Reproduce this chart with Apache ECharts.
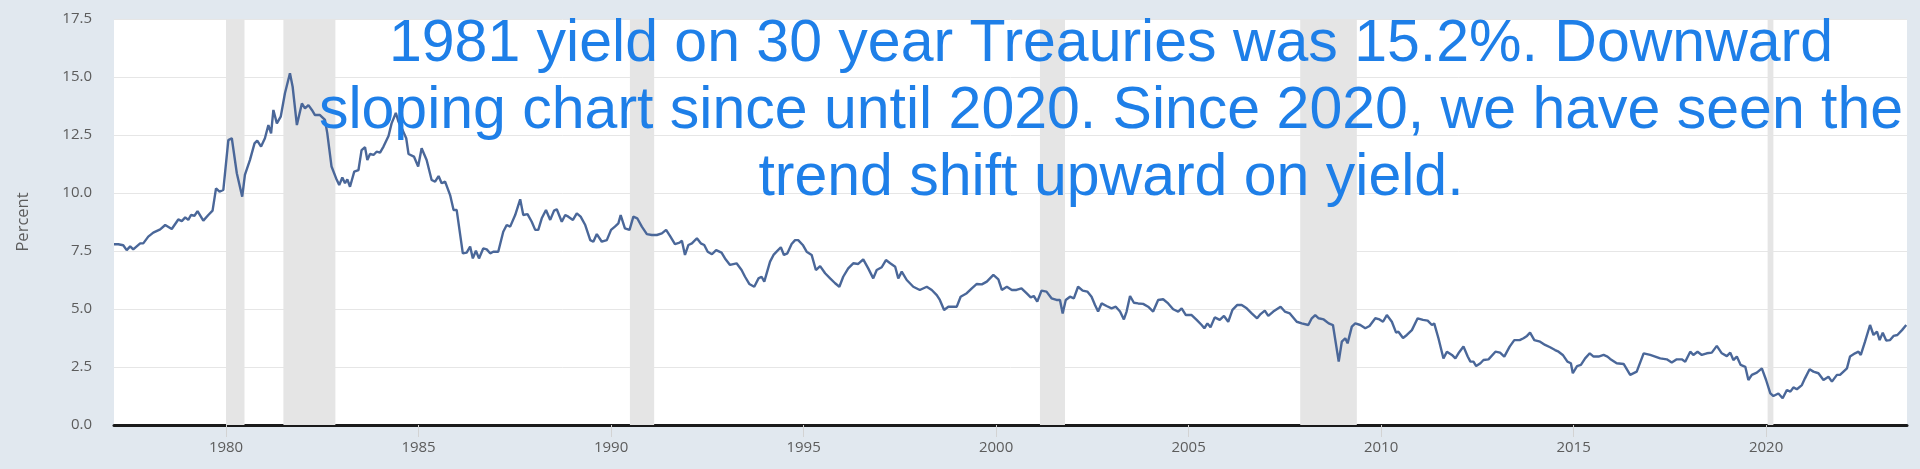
<!DOCTYPE html>
<html>
<head>
<meta charset="utf-8">
<script src="https://cdn.jsdelivr.net/npm/echarts@6/dist/echarts.min.js"></script>
<style>
html,body{margin:0;padding:0;background:#e1e8ef;}
#chart{width:1920px;height:469px;}
</style>
</head>
<body>
<div id="chart"></div>
<script>
const years = [
1977.09,1977.20,1977.33,1977.42,1977.51,1977.59,1977.77,1977.85,1977.98,1978.11,1978.29,1978.42,1978.59,1978.76,1978.85,1978.94,1979.02,1979.09,1979.18,1979.26,1979.41,1979.54,1979.65,1979.74,1979.83,1979.93,1980.06,1980.15,1980.28,1980.42,1980.49,1980.62,1980.74,1980.81,1980.91,1981.01,1981.10,1981.17,1981.23,1981.32,1981.42,1981.53,1981.66,1981.73,1981.84,1981.97,1982.05,1982.14,1982.23,1982.31,1982.44,1982.57,1982.63,1982.74,1982.86,1982.94,1983.02,1983.09,1983.15,1983.22,1983.33,1983.44,1983.52,1983.61,1983.67,1983.74,1983.83,1983.91,1984.00,1984.09,1984.22,1984.30,1984.41,1984.48,1984.59,1984.68,1984.74,1984.88,1984.99,
1985.08,1985.21,1985.34,1985.43,1985.52,1985.60,1985.69,1985.82,1985.91,1985.99,1986.15,1986.25,1986.34,1986.41,1986.49,1986.57,1986.68,1986.77,1986.86,1986.94,1987.07,1987.20,1987.29,1987.38,1987.51,1987.64,1987.72,1987.83,1987.94,1988.03,1988.11,1988.20,1988.31,1988.42,1988.52,1988.59,1988.72,1988.81,1988.89,1989.01,1989.11,1989.21,1989.33,1989.46,1989.54,1989.63,1989.76,1989.89,1990.00,1990.10,1990.19,1990.25,1990.36,1990.48,1990.58,1990.68,1990.80,1990.93,1991.06,1991.19,1991.32,1991.43,1991.53,1991.66,1991.78,1991.84,1991.92,1992.01,1992.10,1992.23,1992.33,1992.42,1992.51,1992.62,1992.73,
1992.87,1992.96,1993.09,1993.26,1993.39,1993.48,1993.59,1993.72,1993.83,1993.91,1993.98,1994.13,1994.22,1994.30,1994.41,1994.49,1994.58,1994.69,1994.78,1994.86,1994.98,1995.08,1995.21,1995.32,1995.43,1995.56,1995.69,1995.82,1995.93,1996.03,1996.16,1996.29,1996.42,1996.55,1996.68,1996.81,1996.90,1997.03,1997.14,1997.25,1997.38,1997.46,1997.55,1997.68,1997.85,1998.02,1998.20,1998.33,1998.46,1998.54,1998.65,1998.76,1998.98,1999.08,1999.24,1999.37,1999.50,1999.63,1999.76,1999.93,2000.06,2000.15,2000.28,2000.41,
2000.53,2000.66,2000.79,2000.90,2000.98,2001.07,2001.18,2001.31,2001.44,2001.57,2001.66,2001.73,2001.81,2001.92,2002.02,2002.13,2002.25,2002.37,2002.48,2002.57,2002.65,2002.74,2002.87,2003.00,2003.11,2003.22,2003.32,2003.39,2003.48,2003.58,2003.69,2003.82,2003.95,2004.08,2004.21,2004.34,2004.47,2004.60,2004.73,2004.82,2004.93,2005.08,2005.21,2005.34,2005.41,2005.49,2005.57,2005.68,2005.81,2005.92,2006.03,2006.14,2006.26,2006.38,2006.51,2006.64,2006.78,2006.87,2006.98,2007.07,2007.20,2007.29,2007.39,2007.50,2007.63,2007.81,2007.94,2008.11,2008.20,
2008.29,2008.38,2008.51,2008.64,2008.75,2008.90,2008.98,2009.07,2009.13,2009.24,2009.33,2009.46,2009.59,2009.70,2009.85,2009.96,2010.05,2010.15,2010.28,2010.39,2010.45,2010.57,2010.67,2010.80,2010.95,2011.09,2011.21,2011.32,2011.38,2011.49,2011.62,2011.71,2011.84,2011.93,2012.01,2012.14,2012.25,2012.32,2012.40,2012.47,2012.58,2012.66,2012.79,2012.97,2013.09,2013.20,2013.34,2013.46,2013.60,2013.70,2013.79,2013.87,2013.98,2014.13,2014.26,2014.39,2014.52,2014.61,2014.72,2014.84,2014.93,2014.98,2015.09,2015.19,2015.30,2015.42,2015.52,2015.65,2015.78,2015.88,
2015.95,2016.12,2016.30,2016.47,2016.64,2016.82,2016.99,2017.12,2017.25,2017.42,2017.55,2017.68,2017.81,2017.90,2018.03,2018.11,2018.22,2018.33,2018.46,2018.59,2018.72,2018.85,2018.98,2019.07,2019.15,2019.24,2019.34,2019.46,2019.54,2019.63,2019.76,2019.89,2020.00,2020.11,2020.19,2020.32,2020.43,2020.54,2020.63,2020.71,2020.80,2020.93,2021.01,2021.13,2021.23,2021.36,2021.49,2021.62,2021.71,2021.84,2021.92,2022.10,2022.18,2022.31,2022.40,2022.46,2022.57,2022.70,2022.79,2022.88,2022.95,2023.03,2023.12,2023.22,2023.31,2023.41,2023.53,2023.64
];
// 30-year Treasury yield, percent
const yields = [
7.79,7.79,7.75,7.54,7.70,7.57,7.83,7.83,8.12,8.29,8.43,8.62,8.45,8.86,8.79,8.95,8.84,9.05,9.02,9.22,8.81,9.05,9.24,10.20,10.06,10.13,12.28,12.36,10.85,9.84,10.78,11.42,12.14,12.26,12.00,12.36,12.93,12.57,13.58,13.00,13.29,14.30,15.16,14.58,12.93,13.86,13.65,13.79,13.58,13.36,13.36,13.15,12.57,11.14,10.63,10.34,10.67,10.42,10.59,10.27,10.92,10.99,11.85,11.97,11.42,11.68,11.64,11.78,11.74,12.00,12.46,13.00,13.45,13.07,12.70,12.36,11.68,11.57,11.14,
11.93,11.42,10.56,10.49,10.73,10.42,10.49,9.91,9.27,9.27,7.40,7.43,7.69,7.18,7.51,7.18,7.61,7.57,7.40,7.47,7.47,8.33,8.62,8.55,9.05,9.73,9.05,9.09,8.76,8.41,8.41,8.91,9.27,8.84,9.24,9.30,8.76,9.05,8.98,8.84,9.12,8.98,8.62,7.97,7.90,8.23,7.90,7.97,8.41,8.55,8.69,9.05,8.48,8.41,8.98,8.91,8.55,8.23,8.19,8.19,8.26,8.41,8.15,7.80,7.86,7.94,7.33,7.76,7.83,8.05,7.83,7.76,7.47,7.36,7.54,
7.43,7.18,6.90,6.97,6.68,6.39,6.08,5.96,6.32,6.39,6.18,7.04,7.33,7.47,7.66,7.33,7.40,7.80,7.97,7.97,7.76,7.47,7.33,6.68,6.85,6.54,6.32,6.11,5.96,6.39,6.75,6.97,6.94,7.14,6.75,6.32,6.68,6.80,7.11,6.97,6.82,6.32,6.61,6.25,5.96,5.82,5.96,5.82,5.60,5.39,4.96,5.10,5.10,5.53,5.68,5.89,6.08,6.06,6.18,6.47,6.28,5.82,5.96,5.82,
5.82,5.89,5.68,5.50,5.56,5.32,5.79,5.75,5.46,5.39,5.39,4.81,5.39,5.53,5.46,5.96,5.79,5.75,5.53,5.17,4.89,5.24,5.13,5.03,5.10,4.89,4.55,4.89,5.56,5.27,5.24,5.22,5.10,4.89,5.39,5.42,5.24,4.99,4.89,5.03,4.74,4.74,4.53,4.31,4.17,4.38,4.21,4.64,4.53,4.70,4.45,4.96,5.17,5.17,5.03,4.81,4.60,4.78,4.93,4.70,4.89,4.99,5.10,4.89,4.81,4.45,4.38,4.31,4.60,
4.74,4.60,4.55,4.38,4.31,2.73,3.59,3.74,3.52,4.24,4.38,4.31,4.17,4.27,4.60,4.55,4.45,4.74,4.45,3.98,4.02,3.75,3.88,4.09,4.60,4.53,4.50,4.31,4.38,3.74,2.87,3.16,3.02,2.87,3.09,3.38,2.95,2.73,2.73,2.54,2.66,2.80,2.83,3.16,3.12,2.95,3.38,3.66,3.66,3.74,3.84,3.98,3.66,3.59,3.45,3.35,3.23,3.16,3.02,2.73,2.66,2.23,2.54,2.59,2.87,3.09,2.95,2.95,3.02,2.95,
2.85,2.66,2.63,2.16,2.30,3.09,3.02,2.95,2.87,2.83,2.69,2.83,2.83,2.73,3.16,3.02,3.16,3.02,3.09,3.12,3.41,3.09,2.97,3.12,2.80,2.95,2.59,2.51,1.94,2.16,2.26,2.44,1.94,1.36,1.25,1.36,1.15,1.51,1.44,1.62,1.54,1.72,2.01,2.40,2.30,2.23,1.94,2.08,1.87,2.16,2.16,2.44,2.95,3.09,3.16,3.02,3.59,4.31,3.88,4.02,3.66,3.98,3.64,3.66,3.84,3.88,4.09,4.31
];
// Recession shading (decimal years)
const recessionStart = [1980.00, 1981.49, 1990.49, 2001.14, 2007.90, 2020.04];
const recessionEnd   = [1980.48, 1982.84, 1991.12, 2001.79, 2009.37, 2020.19];
// Axis ticks
const xTickYears = [1980, 1985, 1990, 1995, 2000, 2005, 2010, 2015, 2020];
const yTickValues = [0, 2.5, 5, 7.5, 10, 12.5, 15, 17.5];
const annotationLines = [
  '1981 yield on 30 year Treauries was 15.2%. Downward',
  'sloping chart since until 2020. Since 2020, we have seen the',
  'trend shift upward on yield.'
];

const seriesData = years.map((y, i) => [y, yields[i]]);
const areas = recessionStart.map((s, i) => [{xAxis: s}, {xAxis: recessionEnd[i]}]);

const chart = echarts.init(document.getElementById('chart'), null, {renderer: 'canvas'});
chart.setOption({
  backgroundColor: '#e1e8ef',
  animation: false,
  grid: {left: 114, right: 13, top: 19, bottom: 44, show: true, backgroundColor: '#ffffff', borderWidth: 0},
  xAxis: {
    type: 'value',
    min: 1977.09,
    max: 2023.66,
    axisLine: {show: true, onZero: false, lineStyle: {color: '#1a1a1a', width: 3}},
    axisTick: {show: true, customValues: xTickYears, length: 12, lineStyle: {color: '#d3d3d3', width: 1}},
    axisLabel: {
      customValues: xTickYears, margin: 15, color: '#5c5c5c',
      fontFamily: 'Open Sans', fontSize: 15,
      formatter: v => String(Math.round(v))
    },
    splitLine: {show: false}
  },
  yAxis: {
    type: 'value',
    min: 0, max: 17.5, interval: 2.5,
    name: 'Percent',
    nameLocation: 'middle',
    nameGap: 82,
    nameTextStyle: {color: '#5c5c5c', fontFamily: 'Open Sans', fontSize: 16.5},
    axisLine: {show: false},
    axisTick: {show: false},
    axisLabel: {
      margin: 22, color: '#5c5c5c', fontFamily: 'Open Sans', fontSize: 15,
      customValues: yTickValues,
      formatter: v => v.toFixed(1)
    },
    splitLine: {show: true, lineStyle: {color: '#e6e6e6', width: 1}}
  },
  series: [{
    type: 'line',
    data: seriesData,
    showSymbol: false,
    symbol: 'none',
    lineStyle: {color: '#4a6799', width: 2.4},
    itemStyle: {color: '#4a6799'},
    z: 3,
    markArea: {
      silent: true,
      itemStyle: {color: '#e5e5e5'},
      data: areas
    }
  }],
  graphic: [{
    type: 'text',
    x: 1111,
    y: 11,
    z: 100,
    silent: true,
    style: {
      text: annotationLines.join('\n'),
      fontFamily: 'Liberation Sans',
      fontSize: 59,
      lineHeight: 67,
      fill: '#1e7fe8',
      align: 'center',
      verticalAlign: 'top'
    }
  }]
});
</script>
</body>
</html>
